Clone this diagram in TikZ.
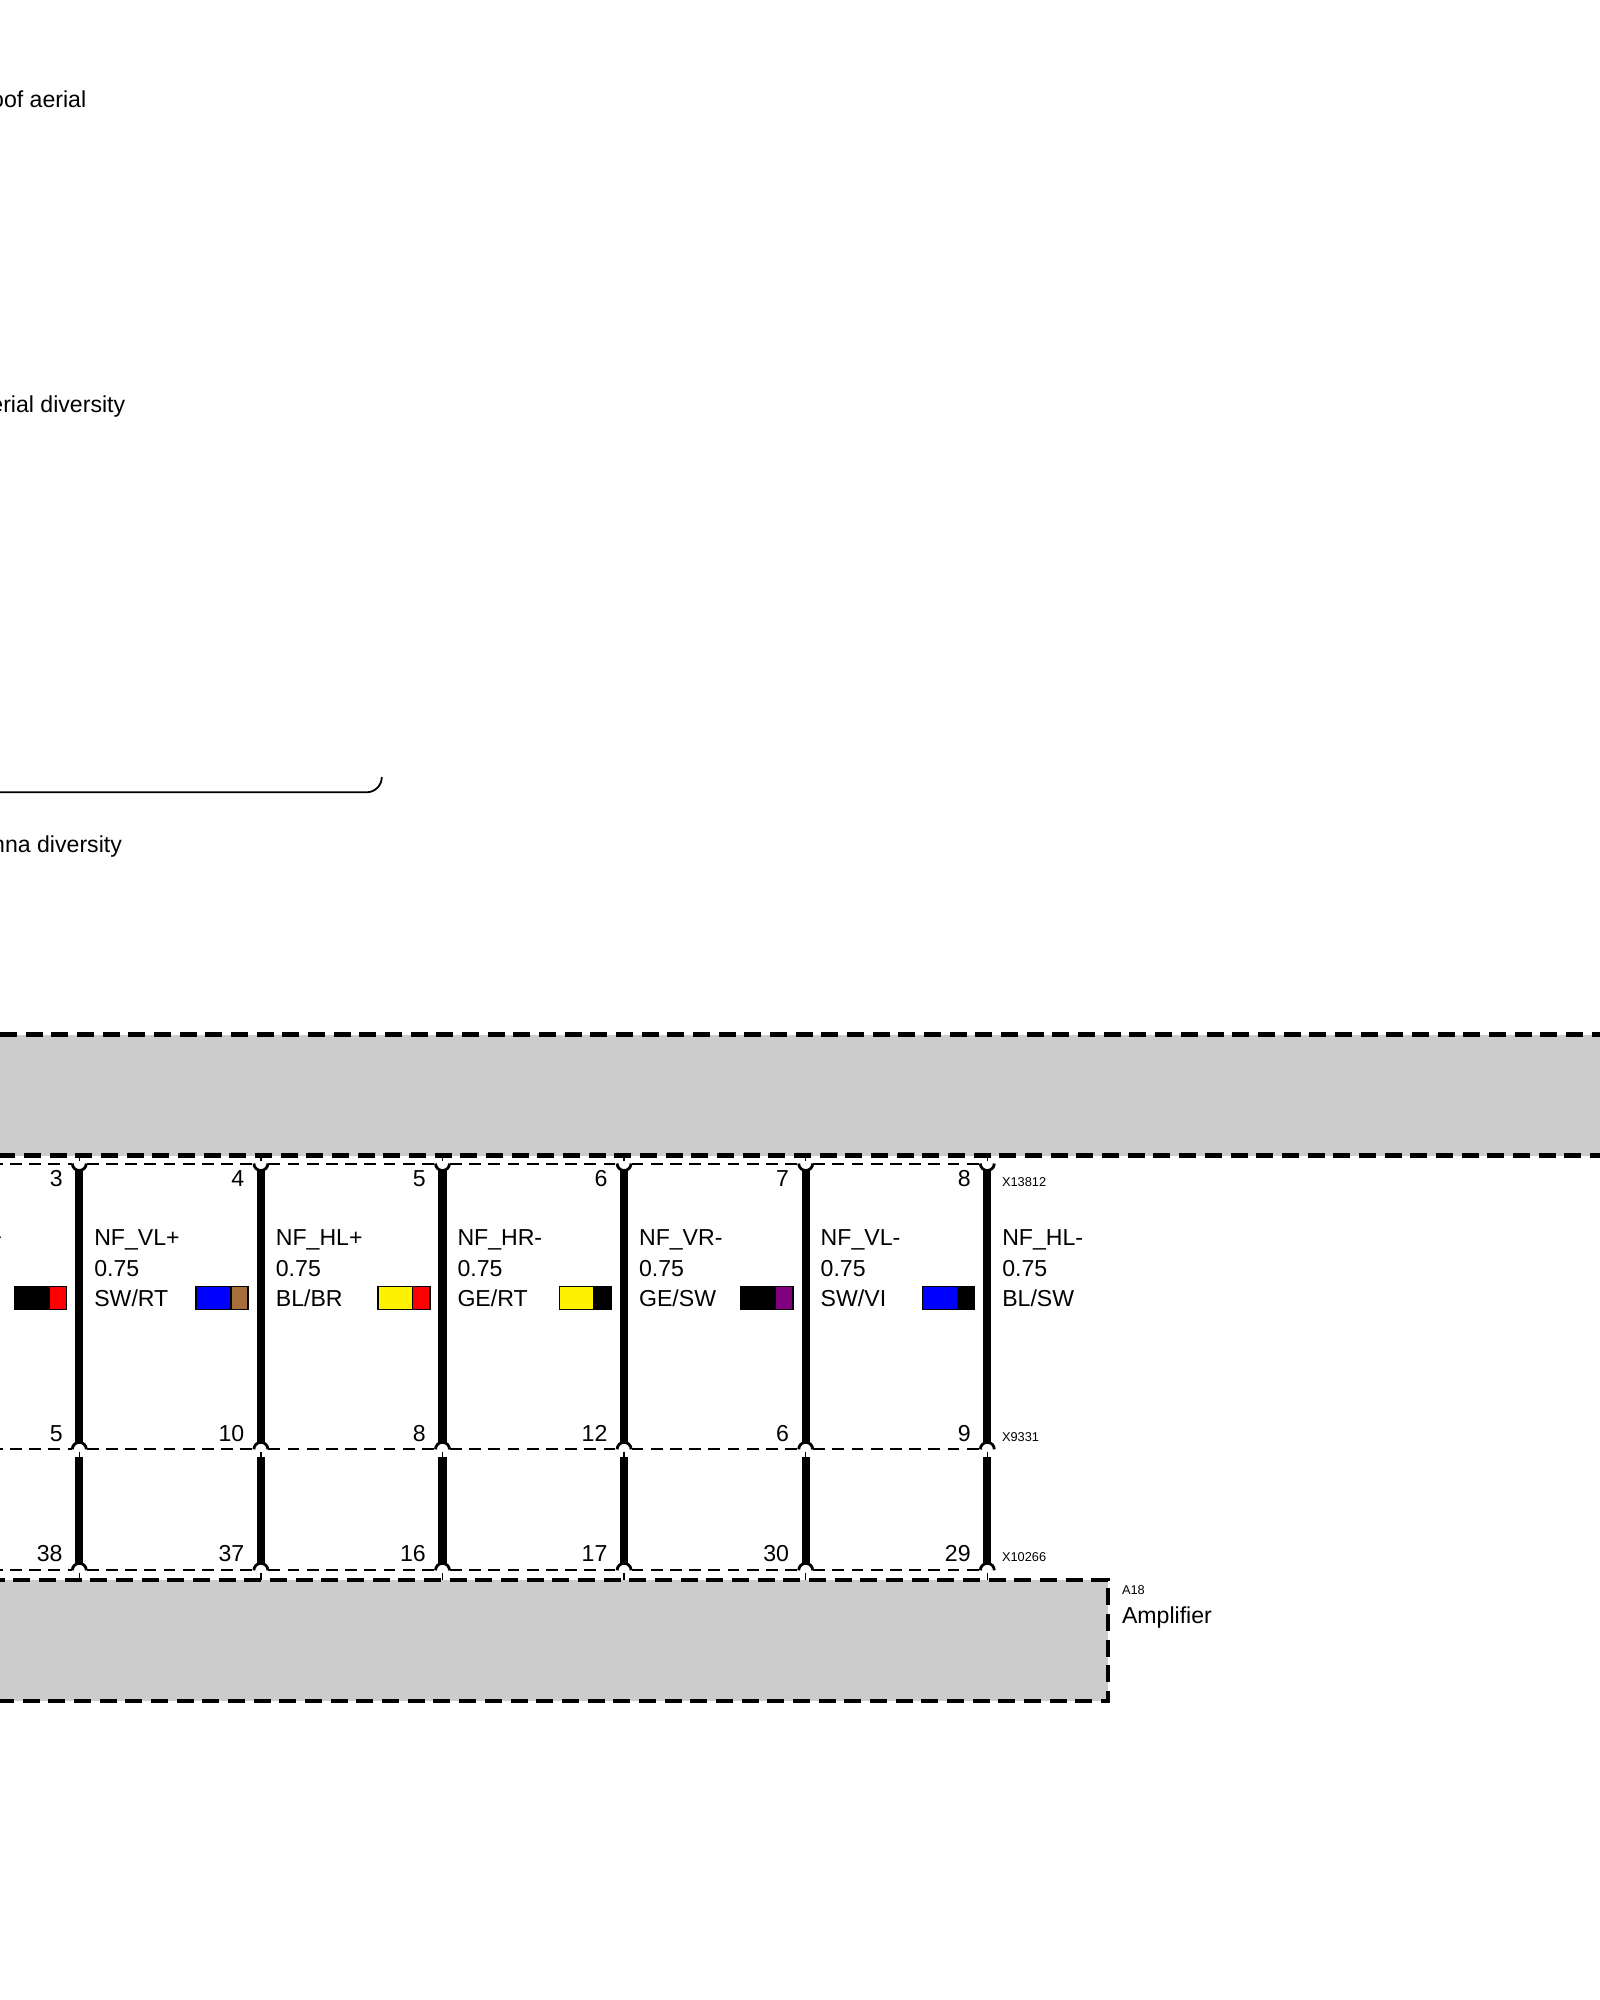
\documentclass[tikz,border=0pt]{standalone}
\usepackage{fontspec}
\setmainfont{Liberation Sans}
\definecolor{boxgray}{HTML}{CCCCCC}
\definecolor{wbrown}{HTML}{A56E3A}
\definecolor{wpurple}{HTML}{800080}
\tikzset{
  txt/.style={anchor=base west,inner sep=0pt,outer sep=0pt,font=\fontsize{23.1}{30}\selectfont},
  pinnum/.style={anchor=base east,inner sep=0pt,outer sep=0pt,font=\fontsize{23.1}{30}\selectfont},
  small/.style={anchor=base west,inner sep=0pt,outer sep=0pt,font=\fontsize{12.8}{15}\selectfont},
  edgetxt/.style={anchor=base east,inner sep=0pt,outer sep=0pt,font=\fontsize{23.1}{30}\selectfont},
  heavydash/.style={line width=4.2pt,dash pattern=on 17pt off 8.67pt,line join=miter},
  thindash/.style={line width=2pt,dash pattern=on 11.7pt off 7.5pt},
  wire/.style={line width=8.3pt},
  pinarc/.style={line width=2.8pt},
  stub/.style={line width=1.5pt},
  swatch/.style={line width=1.5pt},
  bracket/.style={line width=1.8pt}
}
\begin{document}
\begin{tikzpicture}[x=1pt,y=-1pt]
\useasboundingbox (0,0) rectangle (1600,2000);
% labels that run off the left edge
\node[edgetxt] (t1) at (86.2,107.4) {oof aerial};
\node[edgetxt] (t2) at (125.2,412.4) {erial diversity};
\node[edgetxt] (t3) at (121.9,852.4) {nna diversity};
\node[edgetxt] (t4) at (2.2,1245.6) {+};
% bracket
\coordinate (brA) at (-5,792.3);
\coordinate (brB) at (366.5,792.3);
\draw[bracket] (brA) -- (brB) arc[start angle=270,end angle=360,radius=15.3pt];
% grey boxes
\fill[boxgray] (-5,1034.5) rectangle (1605,1155.5);
\fill[boxgray] (-5,1579.7) rectangle (1108.3,1700.7);
% connector lines, left of the first wire
\foreach \yy in {1163.5,1449.3,1570.3}
  \draw[thindash] (-9.2,\yy) -- (72,\yy);
% box outlines
\draw[heavydash] (0,1034.5) -- (1605,1034.5);
\draw[heavydash] (-1.67,1155.5) -- (1605,1155.5);
\draw[heavydash] (-12.47,1579.7) -- (1108.3,1579.7) -- (1108.3,1700.7) -- (-20,1700.7);
% wires
\foreach \i/\pa/\pb/\pc/\nm/\cod/\cla/\clb in {
  0/3/5/38/NF\_VL+/SW\slash RT/black/red,
  1/4/10/37/NF\_HL+/BL\slash BR/blue/wbrown,
  2/5/8/16/NF\_HR-/GE\slash RT/yellow/red,
  3/6/12/17/NF\_VR-/GE\slash SW/yellow/black,
  4/7/6/30/NF\_VL-/SW\slash VI/black/wpurple,
  5/8/9/29/NF\_HL-/BL\slash SW/blue/black}{
  \pgfmathsetmacro{\xw}{79.3+181.6*\i}
  \coordinate (a\i) at (\xw,1169.5);
  \coordinate (b\i) at (\xw,1443);
  \coordinate (c\i) at (\xw,1457);
  \coordinate (d\i) at (\xw,1564);
  % connector lines between this wire and the next
  \ifnum\i<5
    \foreach \yy in {1163.5,1449.3,1570.3}
      \draw[thindash] (\xw+7.5,\yy) -- (\xw+174.1,\yy);
  \fi
  \draw[wire] (a\i) -- (b\i);
  \draw[wire] (c\i) -- (d\i);
  % top pin
  \draw[pinarc] (\xw-7,1163.5) arc[start angle=180,end angle=360,radius=7pt];
  \draw[stub] (\xw,1155.5) -- (\xw,1161);
  % middle pin
  \draw[pinarc] (\xw-7,1449.3) arc[start angle=180,end angle=0,radius=7pt];
  \draw[stub] (\xw,1451.5) -- (c\i);
  % bottom pin
  \draw[pinarc] (\xw-7,1570.3) arc[start angle=180,end angle=0,radius=7pt];
  \draw[stub] (\xw,1572.5) -- (\xw,1579.7);
  % pin numbers
  \node[pinnum] (pa\i) at (\xw-16.7,1186.2) {\pa};
  \node[pinnum] (pb\i) at (\xw-16.7,1441.9) {\pb};
  \node[pinnum] (pc\i) at (\xw-16.7,1561.9) {\pc};
  % wire text
  \node[txt] (na\i) at (\xw+15,1245.6) {\nm};
  \node[txt] (si\i) at (\xw+15,1276.4) {0.75};
  \node[txt] (co\i) at (\xw+15,1306.4) {\cod};
  % colour swatch
  \fill[\cla] (\xw-64.7,1286.4) rectangle (\xw-30,1309.6);
  \fill[\clb] (\xw-30,1286.4) rectangle (\xw-12.7,1309.6);
  \draw[swatch] (\xw-64.7,1286.4) rectangle (\xw-12.7,1309.6);
  \draw[swatch] (\xw-30,1286.4) -- (\xw-30,1309.6);
}
% connector names
\node[small] (x1) at (1002,1186) {X13812};
\node[small] (x2) at (1002,1441.9) {X9331};
\node[small] (x3) at (1002,1561.9) {X10266};
\node[small] (a18) at (1122,1594) {A18};
\node[txt] (amp) at (1122,1623.5) {Amplifier};
\end{tikzpicture}
\end{document}
